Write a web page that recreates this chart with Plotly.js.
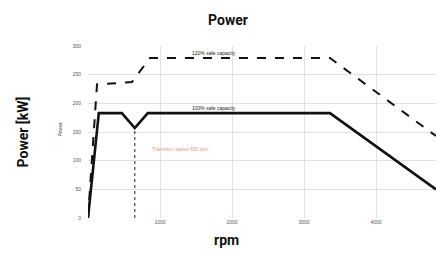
<!DOCTYPE html>
<html>
<head>
<meta charset="utf-8">
<script src="https://cdn.plot.ly/plotly-3.0.1.min.js"></script>
<style>html,body{margin:0;padding:0;background:#fff;}#chart{width:436px;height:256px;}</style>
</head>
<body>
<div id="chart"></div>
<script>
// rpm values (x) and power values (y)
const ratedRpm = [0, 150, 470, 650, 830, 3360, 4833];
const ratedPower = [0, 183, 183, 157, 183, 183, 50];
const peakRpm = [0, 125, 610, 860, 3360, 4833];
const peakPower = [0, 233, 237, 279, 279, 143];
const markerRpm = [650, 650];
const markerPower = [0, 157];
const xTickVals = [1000, 2000, 3000, 4000];
const xTickText = ['1000', '2000', '3000', '4000'];
const yTickVals = [0, 50, 100, 150, 200, 250, 300];
const yTickText = ['0', '50', '100', '150', '200', '250', '300'];
const ratedLabel = '100% safe capacity';
const peakLabel = '120% safe capacity';
const markerLabel = 'Transition speed 650 rpm';

const traces = [
  {x: markerRpm, y: markerPower, mode: 'lines', line: {color: '#444', width: 1.2, dash: 'dot'}, hoverinfo: 'skip'},
  {x: peakRpm, y: peakPower, mode: 'lines', line: {color: '#111', width: 2, dash: 'dash'}},
  {x: ratedRpm, y: ratedPower, mode: 'lines', line: {color: '#111', width: 2.6}}
];

const titleFont = {size: 14, family: 'Roboto, Liberation Sans, sans-serif', weight: 'bold', color: '#111'};

const layout = {
  width: 436, height: 256,
  margin: {l: 88, r: 0, t: 46, b: 38},
  paper_bgcolor: '#fff', plot_bgcolor: '#fff',
  showlegend: false,
  font: {family: 'Liberation Sans, Arial, sans-serif', color: '#111'},
  title: {text: 'Power', x: 0.523, xanchor: 'center', y: 0.922, yanchor: 'middle', font: titleFont},
  xaxis: {range: [0, 4833], tickvals: xTickVals, ticktext: xTickText,
          showgrid: true, gridcolor: '#e2e2e2', gridwidth: 1, zeroline: false,
          showline: false, tickfont: {size: 5, color: '#555'}, ticks: ''},
  yaxis: {range: [0, 300], tickvals: yTickVals, ticktext: yTickText,
          showgrid: true, gridcolor: '#e2e2e2', gridwidth: 1, zeroline: false,
          showline: false, tickfont: {size: 5, color: '#555'}, ticks: '', ticklabelstandoff: 6,
          title: {text: 'Power [kW]', standoff: 40, font: titleFont}},
  annotations: [
    {xref: 'paper', yref: 'paper', x: 0.397, y: -0.13, yanchor: 'middle', text: 'rpm', showarrow: false, font: titleFont},
    {x: 1750, y: 279, text: peakLabel, showarrow: false, yanchor: 'bottom', font: {size: 5, color: '#222'}},
    {x: 1750, y: 183, text: ratedLabel, showarrow: false, yanchor: 'bottom', font: {size: 5, color: '#222'}},
    {x: 1280, y: 120, text: markerLabel, showarrow: false, font: {size: 5, color: '#e29a80'}},
    {xref: 'paper', yref: 'paper', x: -0.095, y: 0.52, text: 'Power', textangle: -90, showarrow: false, font: {size: 5, color: '#333'}}
  ]
};

Plotly.newPlot('chart', traces, layout, {displayModeBar: false, staticPlot: true});
</script>
</body>
</html>
